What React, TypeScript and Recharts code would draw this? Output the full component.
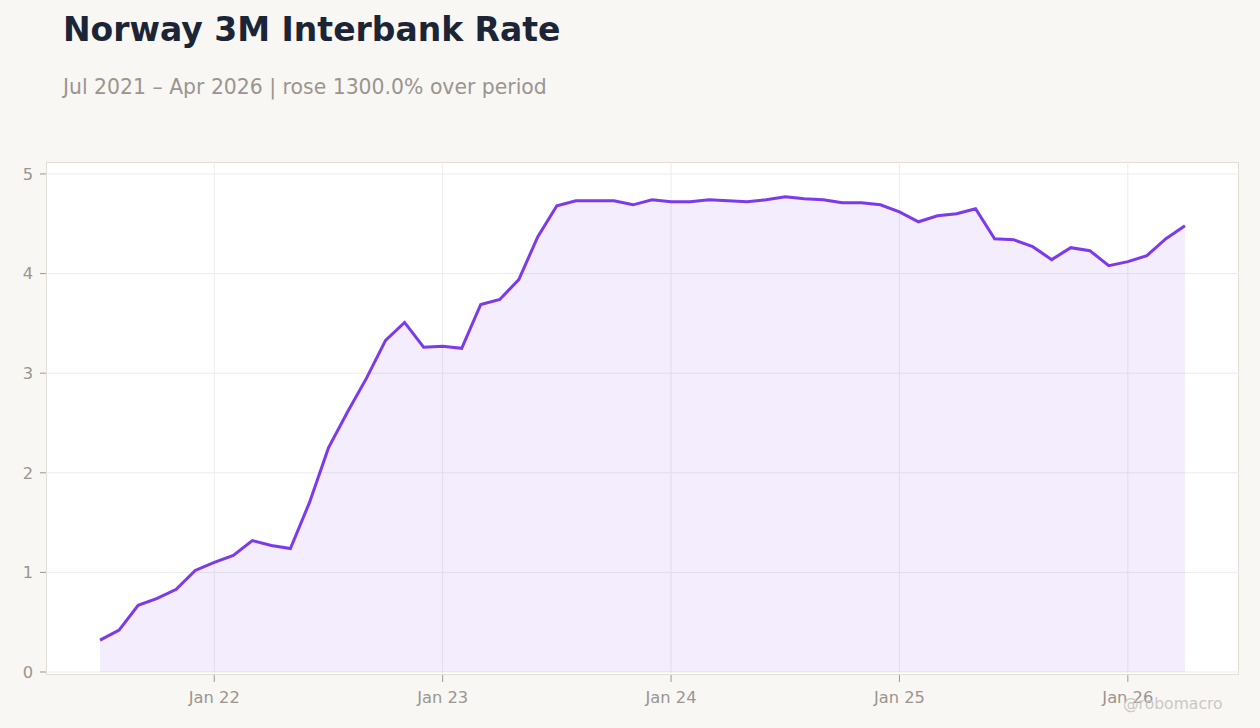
import { AreaChart, Area, XAxis, YAxis, CartesianGrid } from 'recharts'

// monthly observations, Jul 2021 – Apr 2026
const months = [
  '2021-07', '2021-08', '2021-09', '2021-10', '2021-11', '2021-12',
  '2022-01', '2022-02', '2022-03', '2022-04', '2022-05', '2022-06',
  '2022-07', '2022-08', '2022-09', '2022-10', '2022-11', '2022-12',
  '2023-01', '2023-02', '2023-03', '2023-04', '2023-05', '2023-06',
  '2023-07', '2023-08', '2023-09', '2023-10', '2023-11', '2023-12',
  '2024-01', '2024-02', '2024-03', '2024-04', '2024-05', '2024-06',
  '2024-07', '2024-08', '2024-09', '2024-10', '2024-11', '2024-12',
  '2025-01', '2025-02', '2025-03', '2025-04', '2025-05', '2025-06',
  '2025-07', '2025-08', '2025-09', '2025-10', '2025-11', '2025-12',
  '2026-01', '2026-02', '2026-03', '2026-04',
]

const rates = [
  0.32, 0.42, 0.67, 0.74, 0.83, 1.02,
  1.10, 1.17, 1.32, 1.27, 1.24, 1.70,
  2.25, 2.61, 2.95, 3.33, 3.51, 3.26,
  3.27, 3.25, 3.69, 3.74, 3.94, 4.37,
  4.68, 4.73, 4.73, 4.73, 4.69, 4.74,
  4.72, 4.72, 4.74, 4.73, 4.72, 4.74,
  4.77, 4.75, 4.74, 4.71, 4.71, 4.69,
  4.62, 4.52, 4.58, 4.60, 4.65, 4.35,
  4.34, 4.27, 4.14, 4.26, 4.23, 4.08,
  4.12, 4.18, 4.35, 4.48,
]

const xTickMonths = ['2022-01', '2023-01', '2024-01', '2025-01', '2026-01']
const xTickLabels = ['Jan 22', 'Jan 23', 'Jan 24', 'Jan 25', 'Jan 26']
const yTicks = [0, 1, 2, 3, 4, 5]

const data = months.map((m, i) => ({ i, month: m, rate: rates[i] }))
const xTicks = xTickMonths.map((m) => months.indexOf(m))

const FONT = '"DejaVu Sans", sans-serif'
const PURPLE = '#7c3aed'

export default function App() {
  return (
    <div
      style={{
        position: 'absolute',
        left: 0,
        top: 0,
        width: 1260,
        height: 728,
        background: '#f8f7f4',
        fontFamily: FONT,
        overflow: 'hidden',
      }}
    >
      <div style={{ position: 'absolute', left: 63, top: 10, fontSize: 33, fontWeight: 700, color: '#1c2536' }}>
        Norway 3M Interbank Rate
      </div>
      <div style={{ position: 'absolute', left: 63, top: 75, fontSize: 20.4, color: '#9a958f' }}>
        Jul 2021 – Apr 2026 | rose 1300.0% over period
      </div>
      <div
        style={{
          position: 'absolute',
          left: 46,
          top: 162,
          width: 1191,
          height: 511,
          background: '#fff',
          border: '1px solid #e2ddd5',
        }}
      />
      <div style={{ position: 'absolute', left: 0, top: 0 }}>
        <AreaChart width={1260} height={728} data={data} margin={{ top: 162, right: 21, bottom: 23, left: 0 }}>
          <CartesianGrid stroke="#ececec" strokeWidth={1} horizontalValues={yTicks} verticalValues={xTicks} />
          <XAxis
            type="number"
            dataKey="i"
            height={30}
            domain={[-2.84, months.length - 1 + 2.84]}
            ticks={xTicks}
            tickFormatter={(v) => xTickLabels[xTicks.indexOf(v)] ?? ''}
            axisLine={false}
            tickLine={{ stroke: '#999' }}
            tickSize={7}
            tickMargin={9}
            tick={{ fontSize: 16.3, fill: '#9a958f', fontFamily: FONT }}
          />
          <YAxis
            width={46}
            domain={[-0.03, 5.12]}
            ticks={yTicks}
            axisLine={false}
            tickLine={{ stroke: '#999' }}
            tickSize={6}
            tickMargin={7}
            tick={{ fontSize: 16.3, fill: '#9a958f', fontFamily: FONT }}
          />
          <Area
            type="linear"
            dataKey="rate"
            stroke={PURPLE}
            strokeWidth={3}
            fill={PURPLE}
            fillOpacity={0.09}
            baseValue={0}
            dot={false}
            activeDot={false}
            isAnimationActive={false}
          />
        </AreaChart>
      </div>
      <div style={{ position: 'absolute', left: 1123, top: 695, fontSize: 15.6, color: '#cbc8c3' }}>@robomacro</div>
    </div>
  )
}
